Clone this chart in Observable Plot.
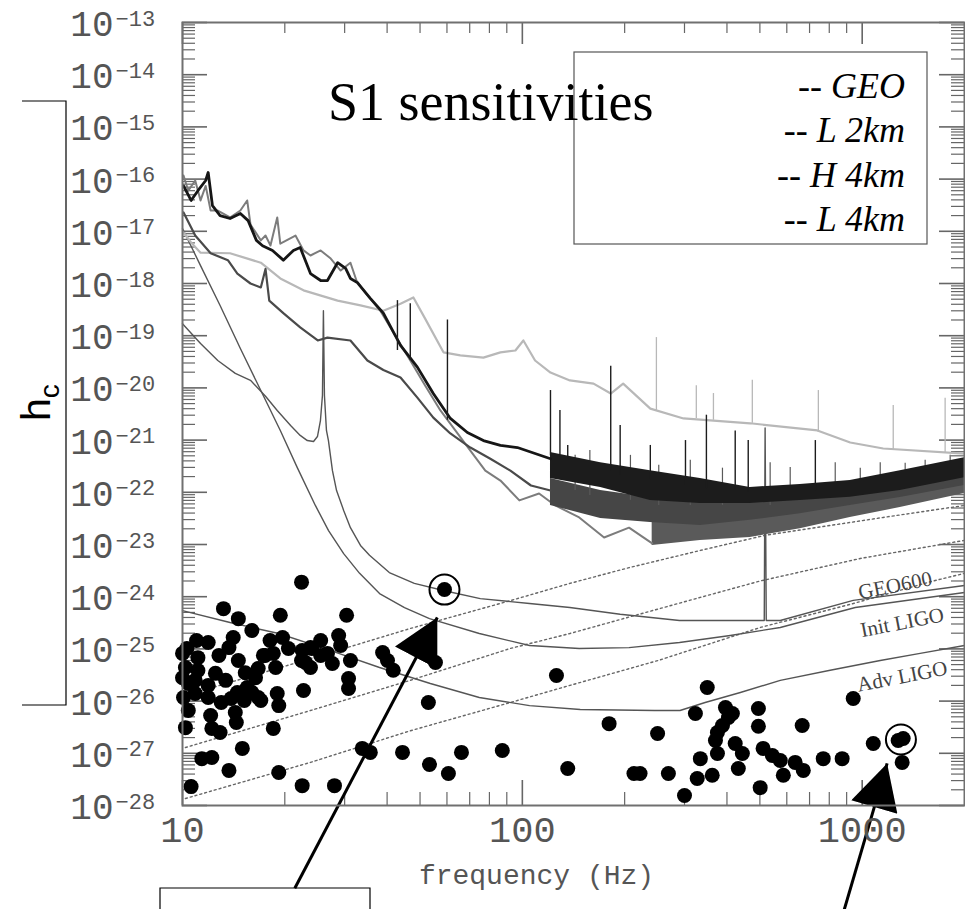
<!DOCTYPE html>
<html><head><meta charset="utf-8">
<script src="https://cdn.jsdelivr.net/npm/d3@7"></script>
<script src="https://cdn.jsdelivr.net/npm/@observablehq/plot@0.6"></script>
<style>body{margin:0;background:#fff} #chart svg{display:block}</style>
</head><body><div id="chart"></div>
<script>
// ---------- axis ticks / labels ----------
const yTickExp = [-28,-27,-26,-25,-24,-23,-22,-21,-20,-19,-18,-17,-16,-15,-14,-13];
const xMajor = [10, 100, 1000];
const xMinor = [20,30,40,50,60,70,80,90,200,300,400,500,600,700,800,900];
const xTickLabels = ["10", "100", "1000"];
const xTitle = "frequency (Hz)";
const yTitle = "h";
const yTitleSub = "c";
const chartTitle = "S1 sensitivities";
const legendLabels = ["-- GEO", "-- L 2km", "-- H 4km", "-- L 4km"];

// ---------- S1 noise curves  [f (Hz), h] ----------
const geoLine = [[10.07,9.5e-18],[10.6,6.1e-18],[11.3,3.9e-18],[13.8,3.8e-18],[17.0,2.5e-18],[19.4,1.25e-18],[22.7,7.4e-19],[28.6,4.7e-19],[33.4,3.8e-19],[39.0,3.0e-19],[43.8,4.1e-19],[47.8,5.4e-19],[51.8,2.1e-19],[58.6,4.8e-20],[65.7,4.2e-20],[76.8,3.8e-20],[86.2,4.8e-20],[95.4,5.2e-20],[100.7,8.1e-20],[109,3.35e-20],[121,1.97e-20],[138,1.39e-20],[162,1.21e-20],[182,7.8e-21],[198,1.21e-20],[238,4.0e-21],[298,2.6e-21],[468,2.1e-21],[738,1.53e-21],[922,9.0e-22],[1153,6.9e-22],[2000,5.5e-22]];
const geoSpikes = [[248,3.7e-21,9.2e-20],[325,2.6e-21,1.1e-20],[365,2.4e-21,7.8e-21],[475,2.1e-21,1.4e-20],[743,1.4e-21,8.9e-21],[1234,6.6e-22,4.6e-21],[1754,5.8e-22,6.3e-21]];

const l2Line = [[10.07,7.4e-17],[10.6,3.9e-17],[11.1,6.0e-17],[11.7,9.4e-17],[11.9,1.34e-16],[12.25,3.1e-17],[12.9,2.0e-17],[13.8,1.76e-17],[14.8,2.2e-17],[15.6,1.6e-17],[16.5,6.7e-18],[17.2,5.3e-18],[18.4,4.3e-18],[19.8,2.8e-18],[21.2,4.3e-18],[22.2,4.9e-18],[23.8,1.55e-18],[25.5,1.14e-18],[26.7,1.14e-18],[28.6,2.5e-18],[30.2,1.94e-18],[31.2,1.25e-18],[32.7,1.04e-18],[35.7,5.2e-19],[39.0,2.7e-19],[43.8,6.5e-20],[49.1,2.5e-20],[54.7,7.8e-21],[61.4,2.6e-21],[68.9,1.4e-21],[76.8,9.8e-22],[86.2,7.9e-22],[96.7,7.2e-22],[121,4.4e-22]];
const l2Band = [[121,5.8e-22,1.84e-22],[170,3.7e-22,1.24e-22],[238,2.6e-22,7.0e-23],[334,1.84e-22,6.1e-23],[468,1.24e-22,6.1e-23],[657,1.41e-22,7.0e-23],[922,1.68e-22,8.0e-23],[1294,2.6e-22,1.08e-22],[2000,4.6e-22,1.9e-22]];
const l2Spikes = [[42.9,5.2e-20,4.7e-19],[46.8,3.35e-20,4.1e-19],[60.2,2.4e-21,2.0e-19],[121,5.0e-22,8.9e-21],[129,5.1e-22,3.7e-21],[136,4.1e-22,7.9e-22],[182,2.6e-22,2.6e-20],[194,2.1e-22,1.9e-21],[238,1.7e-22,7.9e-22],[302,1.35e-22,9.8e-22],[348,1.18e-22,3.0e-21],[423,1.08e-22,1.5e-21],[462,9.9e-23,9.8e-22],[728,1.08e-22,9.8e-22]];

const h4Line = [[10.07,2.3e-17],[10.9,8.3e-18],[12.1,3.8e-18],[13.6,2.8e-18],[14.5,1.55e-18],[15.85,1.0e-18],[17.0,8.4e-19],[17.55,1.9e-18],[18.0,4.7e-19],[19.8,2.7e-19],[22.2,1.44e-19],[25.0,8.1e-20],[26.7,9.2e-20],[31.2,8.1e-20],[35.0,3.35e-20],[39.0,2.2e-20],[43.8,1.58e-20],[49.1,6.5e-21],[54.7,2.7e-21],[61.4,1.34e-21],[70.3,7.2e-22],[80.5,4.4e-22],[92.2,2.6e-22],[106,1.35e-22],[121,1.08e-22]];
const h4Band = [[121,1.84e-22,5.6e-23],[170,1.08e-22,3.15e-23],[238,7.95e-23,2.64e-23],[334,7.0e-23,2.3e-23],[468,7.0e-23,2.9e-23],[657,9.9e-23,3.9e-23],[922,1.35e-22,5.6e-23],[1294,2.1e-22,7.95e-23],[2000,3.7e-22,1.35e-22]];

const l4Line = [[10.07,1.17e-16],[10.4,6.0e-17],[10.9,9.4e-17],[11.3,3.9e-17],[11.7,7.4e-17],[12.1,2.5e-17],[12.7,2.5e-17],[13.8,1.84e-17],[14.8,2.5e-17],[15.5,3.9e-17],[15.85,1.35e-17],[17.0,6.7e-18],[17.55,8.3e-18],[18.15,5.35e-18],[19.0,1.84e-17],[19.4,5.8e-18],[21.5,8.3e-18],[22.7,4.3e-18],[23.8,3.44e-18],[25.5,4.3e-18],[27.3,3.0e-18],[29.2,1.77e-18],[31.2,2.5e-18],[32.5,1.14e-18],[34.5,6.7e-19],[38.2,3.0e-19],[42.3,1.0e-19],[46.8,3.35e-20],[51.8,1.1e-20],[57.4,3.7e-21],[63.5,1.53e-21],[70.3,6.3e-22],[77.8,2.6e-22],[86.2,1.68e-22],[98.0,7.0e-23],[112,9.5e-23],[125,5.6e-23],[147,3.3e-23],[174,1.36e-23],[206,2.1e-23],[241,1.05e-23]];
const l4Band = [[241,5.6e-23,9.6e-24],[334,3.9e-23,1.19e-23],[468,3.6e-23,1.36e-23],[657,5.1e-23,2.0e-23],[922,7.95e-23,3.3e-23],[1294,1.24e-22,5.1e-23],[2000,2.4e-22,9.5e-23]];
const graySpikes = [[143,1.08e-22,5.1e-22],[158,8.7e-23,6.3e-22],[208,7.0e-23,5.1e-22],[252,5.6e-23,3.3e-22],[312,5.6e-23,4.1e-22],[388,5.6e-23,2.9e-22],[536,5.6e-23,3.7e-22],[614,7.0e-23,3.0e-22],[833,8.7e-23,3.7e-22],[987,9.9e-23,2.9e-22],[1130,1.08e-22,3.7e-22],[1338,1.35e-22,3.6e-22],[1532,1.68e-22,4.1e-22],[1815,2.1e-22,5.1e-22]];

// ---------- design curves ----------
const geo600Design = [[10,1.7e-19],[11.3,7.1e-20],[12.7,3.35e-20],[14.3,1.9e-20],[15.85,1.4e-20],[17.55,6.9e-21],[19.0,3.7e-21],[20.8,1.9e-21],[22.2,1.23e-21],[23.3,9.8e-22],[24.3,9.4e-22],[24.95,1.17e-21],[25.46,2.37e-21],[25.81,7.2e-21],[25.98,3.0e-19],[26.16,7.2e-21],[26.52,1.53e-21],[26.88,9.8e-22],[27.62,2.6e-22],[28.4,1.08e-22],[29.8,4.5e-23],[31.2,2.1e-23],[33.4,9.6e-24],[35.5,6.2e-24],[40.6,2.9e-24],[48.1,1.8e-24],[59.0,1.3e-24],[75.2,9.2e-25],[105,7.4e-25],[138,6.2e-25],[194,4.6e-25],[290,3.5e-25],[515,3.5e-25],[518,1.7e-21],[522,3.5e-25],[574,3.5e-25],[941,8.5e-25],[2000,1.64e-24]];
const initLigoDesign = [[10,1.13e-17],[11.3,2.2e-18],[12.9,3.8e-19],[14.8,5.7e-20],[17.0,8.9e-21],[19.4,1.53e-21],[21.8,2.9e-22],[24.6,5.6e-23],[26.9,1.85e-23],[29.8,6.7e-24],[33.2,2.8e-24],[38.0,1.15e-24],[45.0,6.2e-25],[53.3,3.8e-25],[74.7,1.97e-25],[105,1.16e-25],[147,1.02e-25],[206,1.06e-25],[290,1.33e-25],[409,1.81e-25],[574,2.57e-25],[954,6.2e-25],[2000,1.2e-24]];
const advLigoDesign = [[10,5.4e-25],[13.8,3.2e-25],[19.2,1.97e-25],[27.3,9.3e-26],[38.0,4.4e-26],[53.6,2.17e-26],[74.7,1.17e-26],[105,8.2e-27],[148,6.9e-27],[245,6.6e-27],[291,6.6e-27],[345,9.4e-27],[438,1.46e-26],[574,2.5e-26],[805,3.9e-26],[1130,6.0e-26],[1481,8.2e-26],[2000,1.16e-25]];
const designLabels = [
  {f: 1250, h: 1.64e-24, text: "GEO600"},
  {f: 1311, h: 3.2e-25, text: "Init LIGO"},
  {f: 1311, h: 2.96e-26, text: "Adv LIGO"}
];

// ---------- dotted reference lines ----------
const dotted1 = [[10.2,1.28e-26],[23.8,6.5e-26],[46.8,2.46e-25],[92.2,8.4e-25],[138,1.8e-24],[206,3.6e-24],[334,7.7e-24],[518,1.5e-23],[1153,3.3e-23],[2000,5.6e-23]];
const dotted2 = [[10.2,1.29e-27],[23.8,6.6e-27],[46.8,2.5e-26],[92.2,1.02e-25],[138,1.97e-25],[204,4.0e-25],[334,9.7e-25],[501,2.0e-24],[987,5.4e-24],[2000,1.2e-23]];
const dotted3 = [[10.2,1.36e-28],[23.8,6.7e-28],[46.8,2.7e-27],[92.2,9.4e-27],[138,2.0e-26],[251,6.0e-26],[501,2.57e-25],[941,7.4e-25],[1617,2.0e-24],[2000,2.8e-24]];

// ---------- pulsar points [f, h] ----------
const pulsars = [[22.4,1.9e-24],[13.2,5.9e-25],[14.6,3.8e-25],[16.0,2.25e-25],[19.4,4.4e-25],[30.4,4.4e-25],[19.7,1.65e-25],[28.8,1.8e-25],[29.2,1.16e-25],[25.5,1.45e-25],[23.8,1.06e-25],[22.5,9.3e-26],[20.5,1.02e-25],[18.5,8.2e-26],[17.3,7.5e-26],[23.0,5.5e-26],[27.6,5.25e-26],[31.2,6.0e-26],[38.8,8.5e-26],[40.1,6.0e-26],[41.7,3.9e-26],[55.5,5.5e-26],[30.8,2.7e-26],[30.8,1.74e-26],[22.7,1.6e-26],[19.0,1.4e-26],[19.2,8.2e-27],[16.7,1.17e-26],[15.5,1.82e-26],[14.5,1.46e-26],[14.3,6.05e-27],[14.4,3.9e-27],[18.5,3.0e-27],[12.2,3.0e-27],[12.9,2.5e-27],[10.2,3.1e-27],[52.9,9.4e-27],[126,3.1e-26],[15.0,1.24e-27],[11.4,7.9e-28],[12.2,8.3e-28],[13.7,4.7e-28],[19.2,4.3e-28],[10.6,2.3e-28],[22.5,2.4e-28],[28.0,2.4e-28],[33.8,1.24e-27],[35.7,1.04e-27],[44.4,1.04e-27],[53.3,6.1e-28],[60.6,4.1e-28],[66.2,1.04e-27],[87.3,1.13e-27],[136,5.1e-28],[10.3,1.02e-25],[11.9,1.33e-25],[11.1,6.8e-26],[12.8,7.5e-26],[13.7,1.06e-25],[14.1,1.65e-25],[10.2,4.4e-26],[11.1,3.86e-26],[12.5,3.4e-26],[13.4,2.5e-26],[10.4,2.17e-26],[10.07,1.17e-26],[10.9,1.4e-26],[11.9,1.17e-26],[13.0,9.4e-27],[13.9,1.12e-26],[15.3,3.5e-26],[16.4,2.8e-26],[16.7,4.2e-26],[16.0,1.46e-26],[17.0,1.03e-26],[10.4,6.6e-27],[17.5,7.5e-26],[18.8,4.4e-26],[22.4,6.0e-26],[24.0,1.02e-25],[10.0,8.2e-26],[10.0,2.8e-26],[10.9,2.5e-26],[11.9,2.0e-26],[14.6,6.0e-26],[15.2,1.03e-26],[12.1,5.3e-27],[18.1,1.45e-25],[11.0,1.45e-25],[59.0,1.37e-24],[25.5,7.5e-26],[26.7,8.2e-26],[23.8,4.4e-26],
[180,3.7e-27],[213,4.1e-28],[250,2.4e-27],[269,4.1e-28],[222,4.1e-28],[300,1.55e-28],[327,3.3e-28],[323,5.8e-27],[350,1.82e-26],[334,7.9e-28],[362,3.8e-28],[375,9.9e-28],[370,1.76e-27],[375,2.5e-27],[388,3.4e-27],[396,7.5e-27],[404,4.85e-27],[415,5.8e-27],[423,1.54e-27],[444,9.9e-28],[432,5.1e-28],[495,7.2e-27],[495,3.3e-27],[501,2.2e-28],[511,1.24e-27],[544,9.1e-28],[574,7.3e-28],[586,3.8e-28],[635,6.7e-28],[671,4.7e-28],[666,3.4e-27],[768,7.9e-28],[873,7.9e-28],[941,1.12e-26],[1078,1.54e-27],[1276,1.76e-27],[1320,1.92e-27],[1311,6.7e-28]];
const circled = [[59.0,1.37e-24],[1300,1.84e-27]];
// annotation arrows: tail (below the axis) -> tip near circled pulsars
const arrows = [
  {f1: 21.4, h1: 2.6e-30, f2: 56.2, h2: 4.0e-25},
  {f1: 885, h1: 1.0e-30, f2: 1184, h2: 6.4e-28}
];

// ---------- layout ----------
const W = 965, H = 909, ml = 182, mr = 1, mt = 22, mb = 104;
const FW = W - ml - mr, FH = H - mt - mb;
const yMajor = yTickExp.map(e => Math.pow(10, e));
const yMinor = yTickExp.slice(0, -1).flatMap(e => [2,3,4,5,6,7,8,9].map(k => k * Math.pow(10, e)));
const tickCol = "#666";
const axisFont = "Liberation Mono, Courier New, monospace";
const labelCol = "#555";

const fx = d => d[0], fy = d => d[1];
const line = (data, stroke, strokeWidth, extra = {}) => Plot.line(data, {x: fx, y: fy, stroke, strokeWidth, strokeLinejoin: "round", ...extra});
const band = (data, fill) => Plot.areaY(data, {x: fx, y1: d => d[1], y2: d => d[2], fill});
const spikes = (data, stroke, strokeWidth) => Plot.ruleX(data, {x: fx, y1: d => d[1], y2: d => d[2], stroke, strokeWidth});

const svg = Plot.plot({
  width: W, height: H,
  marginLeft: ml, marginRight: mr, marginTop: mt, marginBottom: mb,
  x: {type: "log", domain: [10, 2000], axis: null},
  y: {type: "log", domain: [1e-28, 1e-13], axis: null},
  style: {background: "#fff", overflow: "visible"},
  marks: [
    // ticks (inward, all four sides)
    Plot.ruleY(yMinor, {y: d => d, stroke: tickCol, strokeWidth: 1.2, insetRight: FW - 13}),
    Plot.ruleY(yMajor, {y: d => d, stroke: tickCol, strokeWidth: 1.6, insetRight: FW - 25}),
    Plot.ruleY(yMinor, {y: d => d, stroke: tickCol, strokeWidth: 1.2, insetLeft: FW - 13}),
    Plot.ruleY(yMajor, {y: d => d, stroke: tickCol, strokeWidth: 1.6, insetLeft: FW - 25}),
    Plot.ruleX(xMinor, {x: d => d, stroke: tickCol, strokeWidth: 1.2, insetTop: FH - 13}),
    Plot.ruleX(xMajor, {x: d => d, stroke: tickCol, strokeWidth: 1.6, insetTop: FH - 25}),
    Plot.ruleX(xMinor, {x: d => d, stroke: tickCol, strokeWidth: 1.2, insetBottom: FH - 11}),
    Plot.ruleX(xMajor, {x: d => d, stroke: tickCol, strokeWidth: 1.6, insetBottom: FH - 22}),
    // dotted reference lines
    line(dotted1, "#666", 1.4, {strokeDasharray: "2,3"}),
    line(dotted2, "#666", 1.4, {strokeDasharray: "2,3"}),
    line(dotted3, "#666", 1.4, {strokeDasharray: "2,3"}),
    // design curves
    line(geo600Design, "#555", 1.4),
    line(initLigoDesign, "#555", 1.4),
    line(advLigoDesign, "#555", 1.4),
    Plot.text(designLabels, {x: "f", y: "h", text: "text", rotate: -11, fontSize: 21, fontFamily: "Liberation Serif, serif", fill: "#444"}),
    // S1 noise curves
    line(geoLine, "#b8b8b8", 2.2),
    spikes(geoSpikes, "#b8b8b8", 1.3),
    band(l4Band, "#5a5a5a"),
    line(l4Line, "#7c7c7c", 2),
    band(h4Band, "#464646"),
    line(h4Line, "#4a4a4a", 2.2),
    spikes(graySpikes, "#5a5a5a", 1.2),
    band(l2Band, "#1c1c1c"),
    line(l2Line, "#161616", 2.8),
    spikes(l2Spikes, "#1c1c1c", 1.4),
    // pulsars
    Plot.dot(pulsars, {x: fx, y: fy, r: 7.5, fill: "#000"}),
    Plot.dot(circled, {x: fx, y: fy, r: 15, stroke: "#000", strokeWidth: 2, fill: "none"}),
    Plot.link(arrows, {x1: "f1", y1: "h1", x2: "f2", y2: "h2", stroke: "#000", strokeWidth: 3}),
    // frame
    Plot.frame({stroke: "#707070", strokeWidth: 2}),
    // tick labels
    Plot.text(yTickExp, {y: e => Math.pow(10, e), frameAnchor: "left", text: () => "10", dx: -69, dy: 2, textAnchor: "end", fontSize: 36, fontFamily: axisFont, fill: labelCol}),
    Plot.text(yTickExp, {y: e => Math.pow(10, e), frameAnchor: "left", text: e => "\u2212" + Math.abs(e), dx: -67, dy: -4, textAnchor: "start", fontSize: 22, fontFamily: axisFont, fill: labelCol}),
    Plot.text(xMajor, {x: d => d, frameAnchor: "bottom", text: (d, i) => xTickLabels[i], dy: 36, fontSize: 37, fontFamily: axisFont, fill: labelCol}),
    Plot.text([xTitle], {frameAnchor: "bottom", text: d => d, dx: -37, dy: 78, fontSize: 28, fontFamily: axisFont, fill: labelCol})
  ]
});

// ---------- decorations ----------
const s = d3.select(svg);
const defs = s.append("defs");
defs.append("marker").attr("id", "ahead").attr("viewBox", "0 0 36 38")
  .attr("refX", 36).attr("refY", 19).attr("markerWidth", 46).attr("markerHeight", 48)
  .attr("markerUnits", "userSpaceOnUse").attr("orient", "auto")
  .append("path").attr("d", "M0,0L36,19L0,38Z").attr("fill", "#000");
s.selectAll('g[aria-label="link"] path').attr("marker-end", "url(#ahead)");

// legend box + title
s.append("rect").attr("x", 574).attr("y", 52).attr("width", 353).attr("height", 192)
  .attr("fill", "none").attr("stroke", "#555").attr("stroke-width", 1.2);
s.append("text").attr("x", 328).attr("y", 120).attr("text-anchor", "start")
  .attr("font-family", "Liberation Serif, Times New Roman, serif")
  .attr("font-size", 54).attr("fill", "#000").text(chartTitle);
legendLabels.forEach((t, i) => {
  s.append("text").attr("x", 905).attr("y", 98 + i * 44.3).attr("text-anchor", "end")
    .attr("font-family", "Liberation Serif, Times New Roman, serif").attr("font-style", "italic")
    .attr("font-size", 36).attr("fill", "#000").text(t);
});
// y title h_c with bracket
const yt = s.append("text").attr("transform", "translate(50,421) rotate(-90)").attr("text-anchor", "start")
  .attr("font-family", "Liberation Sans, Arial, sans-serif").attr("font-size", 41).attr("fill", "#000");
yt.append("tspan").text(yTitle);
yt.append("tspan").attr("font-size", 28).attr("dy", 9).text(yTitleSub);
s.append("path").attr("d", "M22,101H66V705H22").attr("fill", "none").attr("stroke", "#000").attr("stroke-width", 1.2);
// lower-left annotation box
s.append("path").attr("d", "M160,909V888H370V909").attr("fill", "none").attr("stroke", "#000").attr("stroke-width", 1.2);

document.getElementById("chart").appendChild(svg);
</script>
</body></html>
